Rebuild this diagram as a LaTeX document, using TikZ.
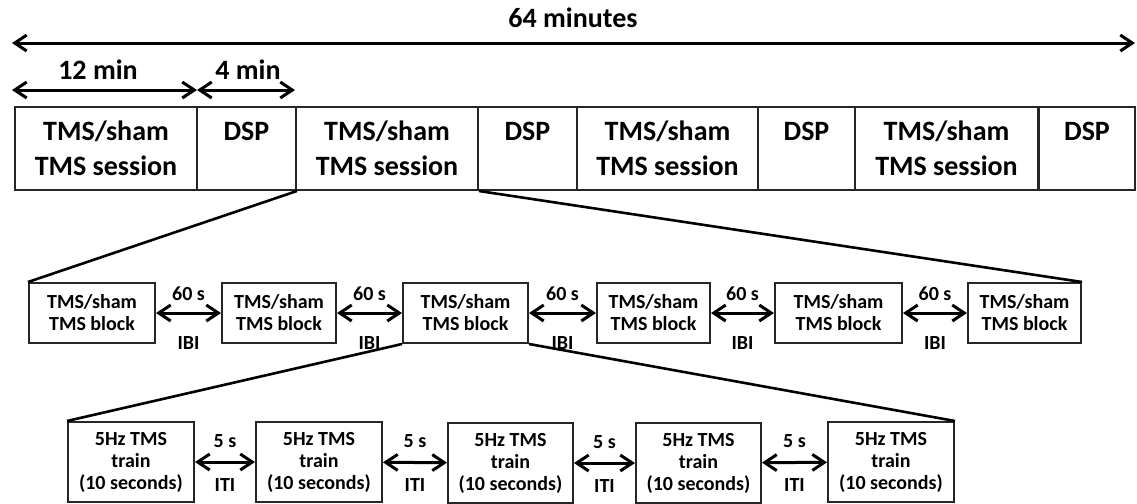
\documentclass[tikz,border=0pt]{standalone}
\usepackage{fontspec}
\setmainfont{Carlito}
\usetikzlibrary{arrows.meta}
\begin{document}
\begin{tikzpicture}[x=0.5pt,y=-0.5pt,
  box/.style={draw=black!85, line width=1pt, inner sep=0pt, align=center, font=\bfseries},
  topbox/.style={box, minimum height=41.5pt, font=\fontsize{14}{17.5}\selectfont\bfseries},
  midbox/.style={box, minimum height=30pt, font=\fontsize{10}{11}\selectfont\bfseries},
  botbox/.style={box, minimum height=40pt, font=\fontsize{10}{11}\selectfont\bfseries},
  dbl/.style={line width=1.5pt, {Straight Barb[length=6pt,width=8pt,line width=1.5pt]}-{Straight Barb[length=6pt,width=8pt,line width=1.5pt]}},
  zoomline/.style={line width=1.3pt},
  toplbl/.style={font=\fontsize{14}{17}\selectfont\bfseries, inner sep=0pt},
  lbl/.style={font=\fontsize{10}{12}\selectfont\bfseries, inner sep=0pt}
]
\useasboundingbox (0,0) rectangle (1137,504);

% time arrows
\coordinate (a64l) at (12,43);
\coordinate (a64r) at (1135,43);
\coordinate (a12l) at (12,90);
\coordinate (a12r) at (197,90);
\coordinate (a4r) at (295,90);
\draw[dbl] (a64l) -- (a64r);
\draw[dbl] (a12l) -- (a12r);
\draw[dbl] (a12r) -- (a4r);
\node[toplbl] (l64) at (573,18) {64 minutes};
\node[toplbl] (l12) at (98,70) {12 min};
\node[toplbl] (l4) at (248,70) {4 min};

% top row
\node[topbox, minimum width=91pt] (T1) at (106,148.5) {TMS/sham\\TMS session};
\node[topbox, minimum width=49.5pt] (D1) at (246.5,148.5) {DSP\\\phantom{T}};
\node[topbox, minimum width=91pt] (T2) at (387,148.5) {TMS/sham\\TMS session};
\node[topbox, minimum width=49.5pt] (D2) at (527.5,148.5) {DSP\\\phantom{T}};
\node[topbox, minimum width=90.5pt] (T3) at (667.5,148.5) {TMS/sham\\TMS session};
\node[topbox, minimum width=48.5pt] (D3) at (806.5,148.5) {DSP\\\phantom{T}};
\node[topbox, minimum width=91.5pt] (T4) at (946.5,148.5) {TMS/sham\\TMS session};
\node[topbox, minimum width=48pt] (D4) at (1087,148.5) {DSP\\\phantom{T}};

% middle row
\node[midbox, minimum width=63pt] (M1) at (92,313) {TMS/sham\\TMS block};
\node[midbox, minimum width=57pt] (M2) at (279,313) {TMS/sham\\TMS block};
\node[midbox, minimum width=62.5pt] (M3) at (465.5,313) {TMS/sham\\TMS block};
\node[midbox, minimum width=56.5pt] (M4) at (653.5,313) {TMS/sham\\TMS block};
\node[midbox, minimum width=63.5pt] (M5) at (838.5,313) {TMS/sham\\TMS block};
\node[midbox, minimum width=56.5pt] (M6) at (1024.5,313) {TMS/sham\\TMS block};

\foreach \a/\b/\i in {M1/M2/1,M2/M3/2,M3/M4/3,M4/M5/4,M5/M6/5}{
  \draw[dbl] (\a) -- (\b)
    node[lbl, midway, yshift=9.5pt] (s\i) {60 s}
    node[lbl, midway, yshift=-15pt] (ibi\i) {IBI};
}

% bottom row
\node[botbox, minimum width=63pt] (B1) at (131,462) {5Hz TMS\\train\\(10 seconds)};
\node[botbox, minimum width=63pt] (B2) at (319,462) {5Hz TMS\\train\\(10 seconds)};
\node[botbox, minimum width=62.5pt] (B3) at (510.5,463) {5Hz TMS\\train\\(10 seconds)};
\node[botbox, minimum width=62.5pt] (B4) at (698.5,463) {5Hz TMS\\train\\(10 seconds)};
\node[botbox, minimum width=63pt] (B5) at (891,462) {5Hz TMS\\train\\(10 seconds)};

\foreach \a/\b/\i in {B1/B2/1,B2/B3/2,B3/B4/3,B4/B5/4}{
  \draw[dbl] (\a) -- (\b)
    node[lbl, midway, yshift=10.5pt] (t\i) {5 s}
    node[lbl, midway, yshift=-11.5pt] (iti\i) {ITI};
}

% zoom lines
\draw[zoomline] (D1.south east) -- (M1.north west);
\draw[zoomline] (T2.south east) -- (M6.north east);
\draw[zoomline] (M3.south west) -- (B1.north west);
\draw[zoomline] (M3.south east) -- (B5.north east);
\end{tikzpicture}
\end{document}
